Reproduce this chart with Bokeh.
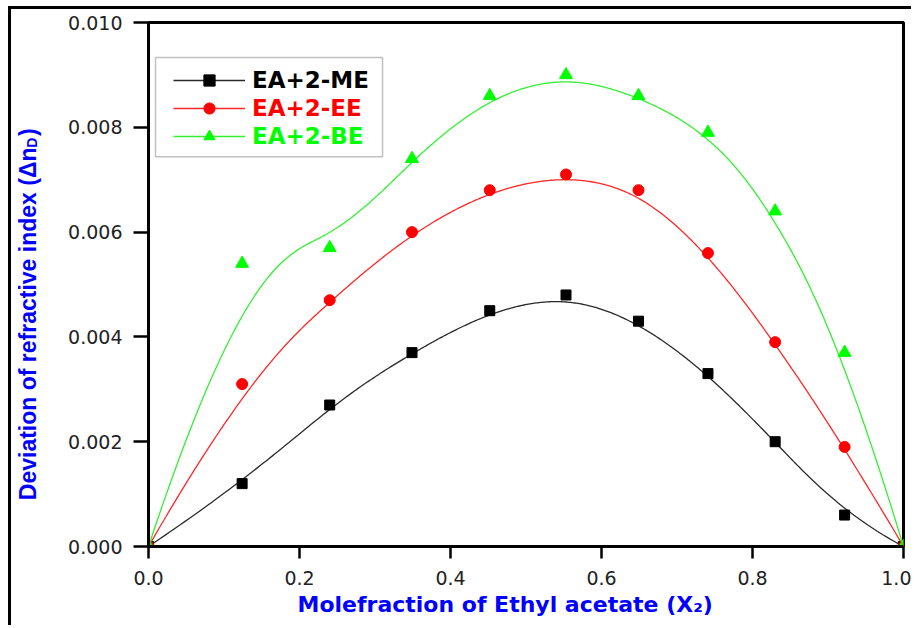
import numpy as np
from bokeh.plotting import figure
from bokeh.models import (Legend, LegendItem, Label, BoxAnnotation, FixedTicker,
                          Range1d, PrintfTickFormatter, Title)
from bokeh.embed import file_html
from bokeh.resources import INLINE

# ---------------- data ----------------
x_frac = [0.0, 0.124, 0.240, 0.349, 0.452, 0.553, 0.649, 0.741, 0.830, 0.922, 1.0]
ea_2me = [0.0, 0.0012, 0.0027, 0.0037, 0.0045, 0.0048, 0.0043, 0.0033, 0.0020, 0.0006, 0.0]
ea_2ee = [0.0, 0.0031, 0.0047, 0.0060, 0.0068, 0.0071, 0.0068, 0.0056, 0.0039, 0.0019, 0.0]
ea_2be = [0.0, 0.0054, 0.0057, 0.0074, 0.0086, 0.0090, 0.0086, 0.0079, 0.0064, 0.0037, 0.0]
series_names = ["EA+2-ME", "EA+2-EE", "EA+2-BE"]
x_ticks = [0.0, 0.2, 0.4, 0.6, 0.8, 1.0]
y_ticks = [0.000, 0.002, 0.004, 0.006, 0.008, 0.010]


def bspline(cx, cy, k=3, n=400):
    """Clamped cubic B-spline that uses the data points as control points
    (the 'B-Spline' connection of the original plotting program)."""
    P = np.column_stack([cx, cy])
    m = len(P)
    knots = np.concatenate([np.zeros(k), np.linspace(0, 1, m - k + 1), np.ones(k)])
    ts = np.linspace(0, 1, n)
    N = np.zeros((n, len(knots) - 1))
    for i in range(len(knots) - 1):
        N[:, i] = (knots[i] <= ts) & (ts < knots[i + 1])
    N[ts >= 1.0, :] = 0
    N[ts >= 1.0, m - 1] = 1
    for d in range(1, k + 1):
        Nn = np.zeros((n, len(knots) - 1 - d))
        for i in range(len(knots) - 1 - d):
            den1 = knots[i + d] - knots[i]
            den2 = knots[i + d + 1] - knots[i + 1]
            a = (ts - knots[i]) / den1 * N[:, i] if den1 > 0 else 0.0
            b = (knots[i + d + 1] - ts) / den2 * N[:, i + 1] if den2 > 0 else 0.0
            Nn[:, i] = a + b
        N = Nn
    curve = N @ P
    return curve[:, 0], curve[:, 1]


p = figure(width=903, height=619, output_backend="svg", toolbar_location=None,
           x_range=Range1d(0, 1), y_range=Range1d(0, 0.010),
           min_border_left=137, min_border_right=11, min_border_top=13, min_border_bottom=82)
p.styles = {"border-left": "3px solid #000", "border-top": "3px solid #000",
            "margin-left": "8px", "margin-top": "6px"}

p.xgrid.visible = False
p.ygrid.visible = False
p.outline_line_color = "black"
p.outline_line_width = 3
p.outline_line_alpha = 1

for ax in (p.xaxis[0], p.yaxis[0]):
    ax.axis_line_width = 3
    ax.axis_line_color = "black"
    ax.major_tick_line_width = 2.5
    ax.major_tick_line_color = "black"
    ax.major_tick_in = 0
    ax.minor_tick_line_color = None
    ax.major_label_text_font = "DejaVu Sans"
    ax.major_label_text_font_size = "19px"
    ax.major_label_text_color = "#222222"
    ax.axis_label = None

p.xaxis.major_tick_out = 12
p.yaxis.major_tick_out = 15
p.xaxis.ticker = FixedTicker(ticks=x_ticks)
p.yaxis.ticker = FixedTicker(ticks=y_ticks)
p.xaxis.formatter = PrintfTickFormatter(format="%.1f")
p.yaxis.formatter = PrintfTickFormatter(format="%.3f")
p.xaxis.major_label_standoff = 12
p.yaxis.major_label_standoff = 11

styles = [
    (ea_2me, "#000000", "square", 10),
    (ea_2ee, "#ff0000", "circle", 11),
    (ea_2be, "#00ff00", "triangle", 13),
]
line_colors = ["#2a2a2a", "#ff2828", "#33f033"]

legend_groups = []
for (ys, col, mk, sz), lc in zip(styles, line_colors):
    bx, by = bspline(x_frac, ys)
    ln = p.line(bx, by, line_color=lc, line_width=1.3)
    sc = p.scatter(x_frac, ys, marker=mk, size=sz, fill_color=col, line_color=col)
    legend_groups.append([ln, sc])

text_cols = ["#000000", "#ff0000", "#00ff00"]
for i, (name, rs, tc) in enumerate(zip(series_names, legend_groups, text_cols)):
    lg = Legend(items=[LegendItem(label=name, renderers=rs)],
                location=(25, 452 - 28 * i), padding=0, margin=0, spacing=0,
                glyph_width=72, glyph_height=28, label_height=28, label_standoff=7,
                border_line_color=None, background_fill_alpha=0,
                label_text_color=tc, label_text_font="DejaVu Sans",
                label_text_font_style="bold", label_text_font_size="23px")
    p.add_layout(lg)

p.add_layout(BoxAnnotation(left=0.0093, right=0.310, bottom=0.00744, top=0.00933,
                           fill_alpha=0, line_color="#333333", line_width=1.5))

blue = "#0000ff"
# x-axis title (Unicode subscript two)
p.add_layout(Title(text="Molefraction of Ethyl acetate (X\u2082)", align="left", offset=149,
                   standoff=4, text_font="DejaVu Sans", text_font_style="bold",
                   text_font_size="22px", text_color=blue), "below")

# y-axis title; the subscript D sits in the gap left before ")"
yfont = "Liberation Sans"
p.add_layout(Label(x=-0.160, y=0.00798, text="Deviation of refractive index (\u0394n\u2002)",
                   angle=np.pi / 2, text_align="right", text_baseline="alphabetic",
                   text_font=yfont, text_font_style="bold", text_font_size="23px",
                   text_color=blue), "left")
p.add_layout(Label(x=-0.1545, y=0.00761, text="D", angle=np.pi / 2, text_align="left",
                   text_baseline="alphabetic", text_font=yfont,
                   text_font_style="bold", text_font_size="14px", text_color=blue), "left")

open("out.html", "w").write(file_html(p, INLINE))
